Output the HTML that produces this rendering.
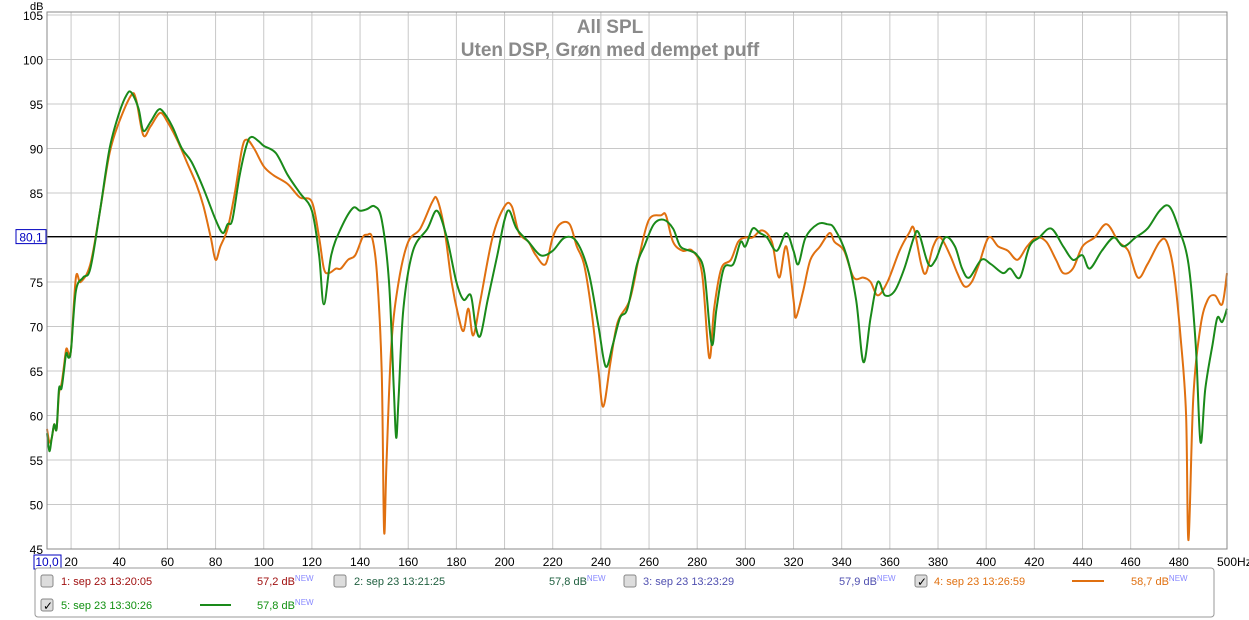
<!DOCTYPE html>
<html><head><meta charset="utf-8"><style>
body{margin:0;background:#fff;width:1249px;height:620px;overflow:hidden;font-family:"Liberation Sans",sans-serif}
svg{position:absolute;left:0;top:0}
</style></head><body>
<svg id="chart" width="1249" height="620" font-family="Liberation Sans, sans-serif">
<rect x="0" y="0" width="1249" height="620" fill="#fff"/>
<g id="grid"></g>
<g id="ticks"></g>
<g id="series"></g>
<rect x="47" y="12" width="1180" height="537" fill="none" stroke="#888"/>
<text x="610" y="33" font-size="19" font-weight="bold" fill="#8a8a8a" text-anchor="middle">All SPL</text>
<text x="610" y="56" font-size="19" font-weight="bold" fill="#8a8a8a" text-anchor="middle">Uten DSP, Grøn med dempet puff</text>
<text x="30" y="10" font-size="11" fill="#000">dB</text>
<rect x="34" y="555" width="27" height="14" fill="#fff" stroke="#0000c0"/>
<text x="47" y="566" font-size="12" fill="#0000c0" text-anchor="middle">10,0</text>
<g>
<rect x="35" y="568" width="1179" height="49" rx="3" fill="#fff" stroke="#999"/>
<g font-size="11">
<rect x="41" y="575" width="12" height="12" rx="2" fill="#ddd" stroke="#888"/>
<text x="61" y="585" fill="#a01010">1: sep 23 13:20:05</text>
<text x="257" y="585" fill="#a01010">57,2 dB<tspan font-size="8" fill="#88f" dy="-4">NEW</tspan></text>
<rect x="334" y="575" width="12" height="12" rx="2" fill="#ddd" stroke="#888"/>
<text x="354" y="585" fill="#206040">2: sep 23 13:21:25</text>
<text x="549" y="585" fill="#206040">57,8 dB<tspan font-size="8" fill="#88f" dy="-4">NEW</tspan></text>
<rect x="624" y="575" width="12" height="12" rx="2" fill="#ddd" stroke="#888"/>
<text x="643" y="585" fill="#5050b0">3: sep 23 13:23:29</text>
<text x="839" y="585" fill="#5050b0">57,9 dB<tspan font-size="8" fill="#88f" dy="-4">NEW</tspan></text>
<rect x="915" y="575" width="12" height="12" rx="2" fill="#ddd" stroke="#888"/>
<text x="917" y="586" font-size="12" fill="#000">✓</text>
<text x="934" y="585" fill="#e07010">4: sep 23 13:26:59</text>
<line x1="1072" y1="581" x2="1104" y2="581" stroke="#e07010" stroke-width="2"/>
<text x="1131" y="585" fill="#e07010">58,7 dB<tspan font-size="8" fill="#88f" dy="-4">NEW</tspan></text>
<rect x="41" y="599" width="12" height="12" rx="2" fill="#ddd" stroke="#888"/>
<text x="43" y="610" font-size="12" fill="#000">✓</text>
<text x="61" y="609" fill="#109010">5: sep 23 13:30:26</text>
<line x1="200" y1="605" x2="231" y2="605" stroke="#1a8a1a" stroke-width="2"/>
<text x="257" y="609" fill="#109010">57,8 dB<tspan font-size="8" fill="#88f" dy="-4">NEW</tspan></text>
</g></g>
</svg>
<script>
const xTicks=[20,40,60,80,100,120,140,160,180,200,220,240,260,280,300,320,340,360,380,400,420,440,460,480,500];
const yTicks=[45,50,55,60,65,70,75,80,85,90,95,100,105];
const refLevel=80.1;
const orangeHz=[10,11,12,13,14,15,16,17,18,19,20,22,24,28,32,36,40,45,47,50,53,57,60,64,68,72,75,78,80,82,85,88,91,93,96,100,104,110,115,120,123,125,127,130,132,135,138,141,143,145,147,149,150,151,153,156,160,165,170,172,175,178,181,183,185,187,190,195,200,203,206,210,213,217,220,223,227,230,233,236,239,241,244,247,252,256,260,265,267,270,274,278,282,285,287,290,294,297,300,303,307,311,314,317,320,321,324,327,331,335,337,341,345,349,352,355,359,364,368,370,373,375,378,381,385,388,391,394,397,401,405,409,413,417,421,425,429,432,436,440,445,450,455,459,463,467,472,475,478,481,483,484,486,489,492,495,498,500];
const orangeDb=[58.5,57,57.5,59,58.5,62.5,63.5,65.5,67.5,67,67.5,75.5,75,77,83,89.5,93,96,95.5,91.5,92.5,94,93,91,88.5,86,83.5,80,77.5,79,81,85,90,91,90,88,87,86,84.5,84,80,76.5,76,76.5,76.5,77.5,78,80,80.3,80,76,65,47,55,68,75,79.5,81,84,84.3,81,75,71,69.5,72,69,73,80,83.5,83.5,80.5,79.5,78,77,80,81.5,81.5,79,77,72,65,61,66,70.5,73,78,82,82.5,82.5,79.5,78.5,78.5,76,66.5,72,76.5,77.5,79.5,80,80,80.8,79.5,75.5,79,73,71,74,77.5,79,80.5,79.5,78.5,75.5,75.5,75,73.5,75,78.5,80.5,81,77,76,79,80,78,76,74.5,75,77,80,79,78.5,77.5,79,80,79.5,77.5,76,76.5,79,80,81.5,79.5,78.5,75.5,77,79.5,79.5,76,68,60,46,62,70,73,73.5,72.5,76];
const greenHz=[10,11,12,13,14,15,16,17,18,19,20,22,25,28,32,36,40,43,45,48,50,53,56,58,62,66,70,75,80,83,85,87,90,93,95,98,100,105,110,115,120,123,125,128,132,137,140,143,146,149,152,154,155,156,158,162,168,172,176,180,183,186,188,190,193,197,200,202,205,210,215,220,225,230,235,239,242,245,248,251,255,258,262,266,270,273,277,280,283,286,288,291,295,298,300,303,306,309,313,317,320,322,325,330,334,337,342,346,349,352,355,358,362,366,370,372,376,379,383,387,390,393,398,402,407,410,414,418,422,427,432,436,440,443,448,453,457,462,467,472,476,480,484,487,489,491,494,496,498,500];
const greenDb=[58,56,57.5,59,58.5,63,63,65,67,66.5,67.5,74,75.5,76.5,83,90,94,96,96.3,94.5,92,93,94.3,94.2,92.5,90,88.5,85.5,82,80.5,81.5,82,87,90.5,91.3,90.8,90.3,89.5,87,85,83,78,72.5,78,81,83.3,83,83.2,83.5,82,75,63,57.5,62,72,78.5,81,83,80,75,73,73.5,70,69,73,78,82,83,81,79.5,78,78.5,80,79.5,76,70,65.5,68,71,72,77,79,81.5,82,81,79,78.5,78,76,68,72,76.5,77,79.5,79,81,80.5,80,78.5,80.5,78.5,77,80,81.5,81.5,81,78,73,66,71,75,73.5,74,76.5,80,80.5,77,77.5,80,79,76.5,75.5,77.5,77,76,76.5,75.5,79,80,81,79,77.5,78,76.5,78.5,80,79,80,81,83,83.5,81,77,68,57,63,68,71,70.5,72];
const X0=47,X1=1227,Y0=15,Y1=549;
const xs=f=>X0+(f-10)/(500-10)*(X1-X0);
const ys=d=>Y0+(105-d)/(105-45)*(Y1-Y0);
const NS='http://www.w3.org/2000/svg';
const grid=document.getElementById('grid'),ticks=document.getElementById('ticks'),ser=document.getElementById('series');
function mk(tag,attrs,parent){const e=document.createElementNS(NS,tag);for(const k in attrs)e.setAttribute(k,attrs[k]);parent.appendChild(e);return e;}
xTicks.forEach(t=>{
 const l=mk('line',{x1:xs(t),x2:xs(t),y1:12,y2:Y1,stroke:'#c8c8c8'},grid);
 
 
 const tx=mk('text',{x:xs(t),y:566,'font-size':12,'text-anchor':t===500?'start':'middle',fill:'#000'},ticks);
 
 
 if(t===500)tx.setAttribute('x',xs(t)-10);
 tx.textContent=t===500?'500Hz':String(t);
});
yTicks.forEach(t=>{
 const l=mk('line',{x1:X0,x2:X1,y1:ys(t),y2:ys(t),stroke:'#c8c8c8'},grid);
 
 
 const tx=mk('text',{x:43,y:ys(t)+5,'font-size':12,'text-anchor':'end',fill:'#000'},ticks);
 
 
 tx.textContent=String(t);
});
const rl=mk('line',{x1:X0,x2:X1,y1:ys(refLevel),y2:ys(refLevel),stroke:'#000','stroke-width':1.2},ser);


const rb=mk('rect',{x:16,y:ys(refLevel)-7,width:30,height:14,fill:'#fff',stroke:'#0000c0'},ser);


const rt=mk('text',{x:31,y:ys(refLevel)+5,'font-size':12,'text-anchor':'middle',fill:'#0000c0'},ser);


rt.textContent=String(refLevel).replace('.',',');
function pathD(hz,db){
 const p=hz.map((h,i)=>[xs(h),ys(db[i])]);
 let d='M'+p[0][0].toFixed(1)+','+p[0][1].toFixed(1);
 for(let i=0;i<p.length-1;i++){
  const a=p[Math.max(0,i-1)],b=p[i],c=p[i+1],e=p[Math.min(p.length-1,i+2)];
  const c1=[b[0]+(c[0]-a[0])/6,b[1]+(c[1]-a[1])/6],c2=[c[0]-(e[0]-b[0])/6,c[1]-(e[1]-b[1])/6];
  d+=' C'+c1[0].toFixed(1)+','+c1[1].toFixed(1)+' '+c2[0].toFixed(1)+','+c2[1].toFixed(1)+' '+c[0].toFixed(1)+','+c[1].toFixed(1);
 }
 return d;
}
const po=mk('path',{d:pathD(orangeHz,orangeDb),fill:'none',stroke:'#e07010','stroke-width':2},ser);


const pg=mk('path',{d:pathD(greenHz,greenDb),fill:'none',stroke:'#1a8a1a','stroke-width':2},ser);


</script>
</body></html>
